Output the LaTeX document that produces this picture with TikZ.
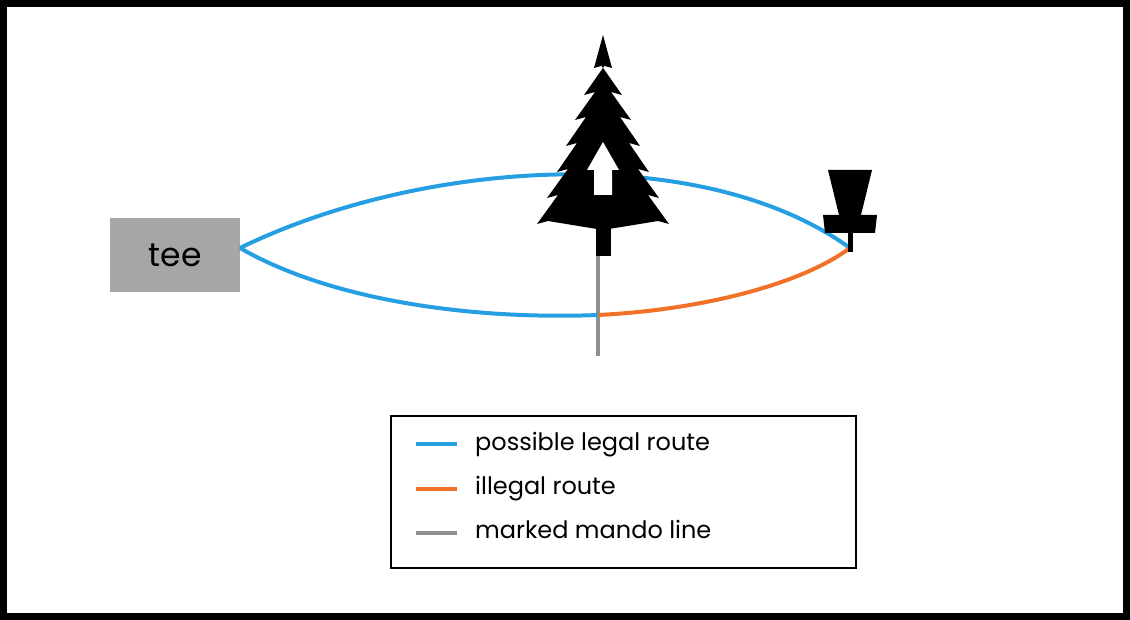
\documentclass[tikz,border=0pt]{standalone}
\usepackage{fontspec}
\setmainfont{Poppins}
\usetikzlibrary{positioning}
\definecolor{legalblue}{HTML}{259FE2}
\definecolor{illegalorange}{HTML}{F07127}
\definecolor{mandogray}{HTML}{8F8F8F}
\definecolor{teegray}{HTML}{A6A6A6}
\tikzset{route/.style={line width=4pt}}
\tikzset{legal/.style={route,draw=legalblue}}
\tikzset{illegal/.style={route,draw=illegalorange}}
\tikzset{mando/.style={route,draw=mandogray}}
\tikzset{legend/.style={font=\fontsize{24}{28}\selectfont,anchor=west,inner sep=0pt}}
\begin{document}
\begin{tikzpicture}[x=1pt,y=-1pt]
    \useasboundingbox (0,0) rectangle (1130,620);
    \draw[line width=7pt] (3.5,3.5) rectangle (1126.5,616.5);

    \node[fill=teegray,minimum width=130pt,minimum height=74pt,font=\fontsize{33}{38}\selectfont] (tee) at (175,255) {tee};
    \coordinate (start) at (240,248);
    \coordinate (basket) at (850,248);
    \coordinate (cross) at (598,315);
    \coordinate (mtop) at (598,255);
    \coordinate (mbot) at (598,356);

    % mando line
    \draw[mando] (mtop) -- (mbot);
    % routes
    \draw[legal] (start) .. controls (420,160) and (700,140) .. (basket);
    \draw[legal] (start) .. controls (330,300) and (470,320) .. (cross);
    \draw[illegal] (cross) .. controls (700,310) and (800,285) .. (basket);

    % tree
    \fill (603,35)
      foreach \y/\d in {68/9,95/19,120/28,146/37,172/46,198/56,224/66} {-- ({603+\d},\y) -- ({603+\d-11},{\y-3})}
      -- (603,230)
      foreach \y/\d in {224/66,198/56,172/46,146/37,120/28,95/19,68/9} {-- ({603-\d+11},{\y-3}) -- ({603-\d},\y)}
      -- cycle;
    \fill (596,226) rectangle (611,256);
    \fill[white] (603,142) -- (619,170) -- (612,170) -- (612,195) -- (594,195) -- (594,170) -- (587,170) -- cycle;

    % basket
    \fill (828,170) -- (872,170) -- (861,215) -- (839,215) -- cycle;
    \fill (823,215) -- (877,215) -- (875,233) -- (825,233) -- cycle;
    \fill (848,233) rectangle (853,252);

    % legend
    \draw[line width=2.5pt] (391,416) rectangle (856,568);
    \node[legend] (l1) at (475,445) {possible legal route};
    \node[legend] (l2) at (475,489) {illegal route};
    \node[legend] (l3) at (475,529) {marked mando line};
    \draw[legal] (416,444) -- (457,444);
    \draw[illegal] (416,489) -- (457,489);
    \draw[mando] (416,533) -- (457,533);
\end{tikzpicture}
\end{document}
